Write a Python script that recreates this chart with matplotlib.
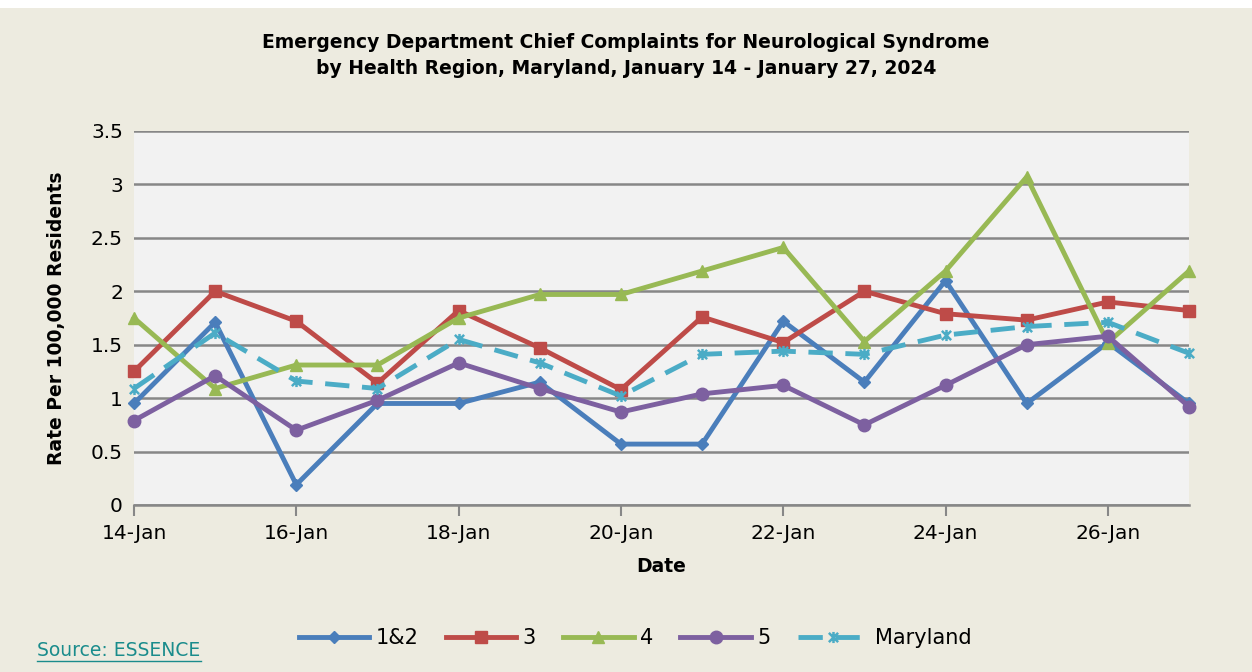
import numpy as np
import pandas as pd
import matplotlib
matplotlib.use("Agg")
import matplotlib.pyplot as plt
from matplotlib.path import Path

##############################
#  data
##############################
dates = pd.date_range("2024-01-14", "2024-01-27", freq="D")
region_12 = [0.95, 1.71, 0.19, 0.95, 0.95, 1.15, 0.57, 0.57, 1.72, 1.15, 2.10, 0.95, 1.52, 0.95]
region_3 = [1.25, 2.00, 1.72, 1.14, 1.82, 1.47, 1.08, 1.76, 1.52, 2.00, 1.79, 1.73, 1.90, 1.82]
region_4 = [1.75, 1.09, 1.31, 1.31, 1.75, 1.97, 1.97, 2.19, 2.41, 1.53, 2.19, 3.07, 1.52, 2.19]
region_5 = [0.79, 1.21, 0.70, 0.98, 1.33, 1.09, 0.87, 1.04, 1.12, 0.75, 1.12, 1.50, 1.58, 0.92]
maryland = [1.09, 1.61, 1.16, 1.09, 1.55, 1.33, 1.02, 1.41, 1.44, 1.41, 1.59, 1.67, 1.71, 1.42]

series_names = ["1&2", "3", "4", "5", "Maryland"]
series_vals = [region_12, region_3, region_4, region_5, maryland]
yticks = [0, 0.5, 1, 1.5, 2, 2.5, 3, 3.5]
ytick_labels = ["0", "0.5", "1", "1.5", "2", "2.5", "3", "3.5"]

#-- excel "star" marker: an x with a vertical stroke
star = Path([(-1, -1), (1, 1), (-1, 1), (1, -1), (0, -1.2), (0, 1.2)],
	[Path.MOVETO, Path.LINETO, Path.MOVETO, Path.LINETO, Path.MOVETO, Path.LINETO])

#-- styles
colors = ["#4A7EBB", "#BE4B48", "#98B954", "#7D60A0", "#4BACC6"]
markers = ["D", "s", "^", "o", star]
msizes = [6, 8, 9, 9, 8]
styles = ["-", "-", "-", "-", (0, (5, 2.6))]

bg = "#EDEBE0"
plotbg = "#F2F2F2"
gridc = "#878787"

plt.rcParams['font.family'] = ['DejaVu Sans']

fig = plt.figure(figsize=(12.52, 6.72), dpi=100)
fig.patch.set_facecolor("white")
#-- beige frame (leaves a thin white strip on top)
fig.patches.append(plt.Rectangle((0, 0), 1, 1 - 8/672, transform=fig.transFigure,
                                 facecolor=bg, edgecolor="none", zorder=-10))

ax = fig.add_axes([134/1252, 1 - 505/672, (1189-134)/1252, (505-131)/672])
ax.set_facecolor(plotbg)

x = np.arange(len(dates))
for i, (name, vals, c, m, ms, ls) in enumerate(zip(series_names, series_vals, colors, markers, msizes, styles)):
	mew = 1.8 if i == 4 else 1
	ax.plot(x, vals, color=c, lw=3.5, ls=ls, marker=m, ms=ms, mfc=c, mec=c, mew=mew,
		label=name, clip_on=False, zorder=3)

ax.set_ylim(0, 3.5)
ax.set_xlim(0, len(dates) - 1)
ax.set_yticks(yticks)
ax.set_yticklabels(ytick_labels)
ax.yaxis.grid(True, color=gridc, lw=1.8)
ax.set_axisbelow(True)

ax.set_xticks(x[::2])
ax.set_xticklabels([d.strftime("%d-%b").lstrip("0") for d in dates[::2]])

for s in ["top", "right", "left"]:
	ax.spines[s].set_visible(False)
ax.spines["bottom"].set_color(gridc)
ax.spines["bottom"].set_linewidth(1.8)
ax.tick_params(axis="x", length=8, width=1.5, color=gridc, labelsize=14.5, pad=6)
ax.tick_params(axis="y", length=0, labelsize=14.5, pad=8)

ax.set_xlabel("Date", fontsize=13.5, fontweight="bold", labelpad=10)
ax.set_ylabel("Rate Per 100,000 Residents", fontsize=13.5, fontweight="bold", labelpad=18)

fig.text(0.5, 1 - 42/672, "Emergency Department Chief Complaints for Neurological Syndrome",
	ha="center", va="center", fontsize=13.5, fontweight="bold")
fig.text(0.5, 1 - 68/672, "by Health Region, Maryland, January 14 - January 27, 2024",
	ha="center", va="center", fontsize=13.5, fontweight="bold")

leg = fig.legend(loc="center", bbox_to_anchor=(635/1252, 1 - 638/672), ncol=5, frameon=False,
	fontsize=15, handlelength=3.4, columnspacing=1.3, handletextpad=0.3)

fig.text(37/1252, 1 - 650/672, "Source: ESSENCE", color="#1A8C8C", fontsize=13.5,
	ha="left", va="center")
fig.add_artist(plt.Line2D([37/1252, 201/1252], [1 - 661/672, 1 - 661/672],
	transform=fig.transFigure, color="#1A8C8C", lw=1))

fig.savefig("out.png", dpi=100, facecolor=fig.get_facecolor())
